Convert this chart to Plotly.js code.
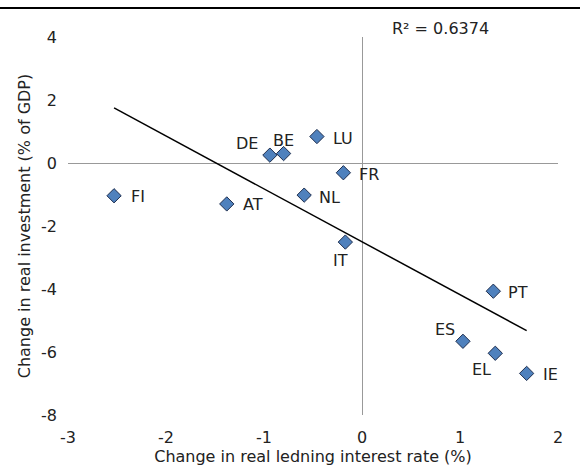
<!DOCTYPE html>
<html><head><meta charset="utf-8">
<script src="https://cdn.plot.ly/plotly-3.0.1.min.js"></script>
<style>html,body{margin:0;padding:0;background:#fff}#c{width:580px;height:471px}</style>
</head><body><div id="c"></div>
<script>
const countries = ["FI","AT","DE","BE","LU","FR","NL","IT","PT","ES","EL","IE"];
const rateChange = [-2.53,-1.38,-0.94,-0.80,-0.46,-0.19,-0.59,-0.17,1.34,1.03,1.36,1.68];
const investChange = [-1.04,-1.30,0.25,0.30,0.84,-0.31,-1.02,-2.51,-4.07,-5.66,-6.04,-6.68];
// label offsets from each marker, in pixels (style)
const labelDX = [24,26,-23,0,26,26,25,-5,25,-18,-14,24];
const labelDY = [-1,-1,12,13,-2,-2,-2,-18,-1,12,-16,-1];
const xTicks = [-3,-2,-1,0,1,2];
const xTickText = ["-3","-2","-1","0","1","2"];
const yTicks = [4,2,0,-2,-4,-6,-8];
const yTickText = ["4","2","0","-2","-4","-6","-8"];

// least-squares trend line
const n = rateChange.length;
const mx = rateChange.reduce((a,b)=>a+b,0)/n;
const my = investChange.reduce((a,b)=>a+b,0)/n;
let sxy=0,sxx=0;
for(let i=0;i<n;i++){sxy+=(rateChange[i]-mx)*(investChange[i]-my);sxx+=(rateChange[i]-mx)**2;}
const slope=sxy/sxx, icpt=my-slope*mx;
const xmin=Math.min(...rateChange), xmax=Math.max(...rateChange);

const font = {family:"DejaVu Sans, Verdana, sans-serif", size:16, color:"#222"};
const labels = countries.map((c,i)=>({x:rateChange[i],y:investChange[i],text:c,showarrow:false,
  xshift:labelDX[i],yshift:labelDY[i],xanchor:"center",yanchor:"middle",font:font}));
labels.push({xref:"paper",yref:"paper",x:0.657,y:1,xanchor:"left",yanchor:"middle",yshift:9,showarrow:false,text:"R² = 0.6374",font:font});

Plotly.newPlot("c",[
 {x:[xmin,xmax],y:[icpt+slope*xmin,icpt+slope*xmax],mode:"lines",line:{color:"#000",width:1.5},hoverinfo:"skip",showlegend:false},
 {x:rateChange,y:investChange,mode:"markers",
  marker:{symbol:"diamond",size:11,color:"#4F81BD",line:{color:"#1f2f4f",width:1}},showlegend:false}
],{
 width:580,height:471,margin:{l:68,r:22,t:37,b:56},
 paper_bgcolor:"#fff",plot_bgcolor:"#fff",font:font,
 xaxis:{range:[-3,2],tickvals:xTicks,ticktext:xTickText,showgrid:false,showline:false,zeroline:true,zerolinecolor:"#999",zerolinewidth:1,
  ticks:"",ticklabelstandoff:11,title:{text:"Change in real ledning interest rate (%)",font:font,standoff:3}},
 yaxis:{range:[-8,4],tickvals:yTicks,ticktext:yTickText,showgrid:false,showline:false,zeroline:true,zerolinecolor:"#999",zerolinewidth:1,
  ticks:"",ticklabelstandoff:10,title:{text:"Change in real investment (% of GDP)",font:font,standoff:6}},
 shapes:[{type:"line",xref:"paper",yref:"paper",x0:-0.2,x1:1.2,y0:1.0767,y1:1.0767,line:{color:"#000",width:2}}],
 annotations:labels
},{displayModeBar:false,staticPlot:true});
</script></body></html>
